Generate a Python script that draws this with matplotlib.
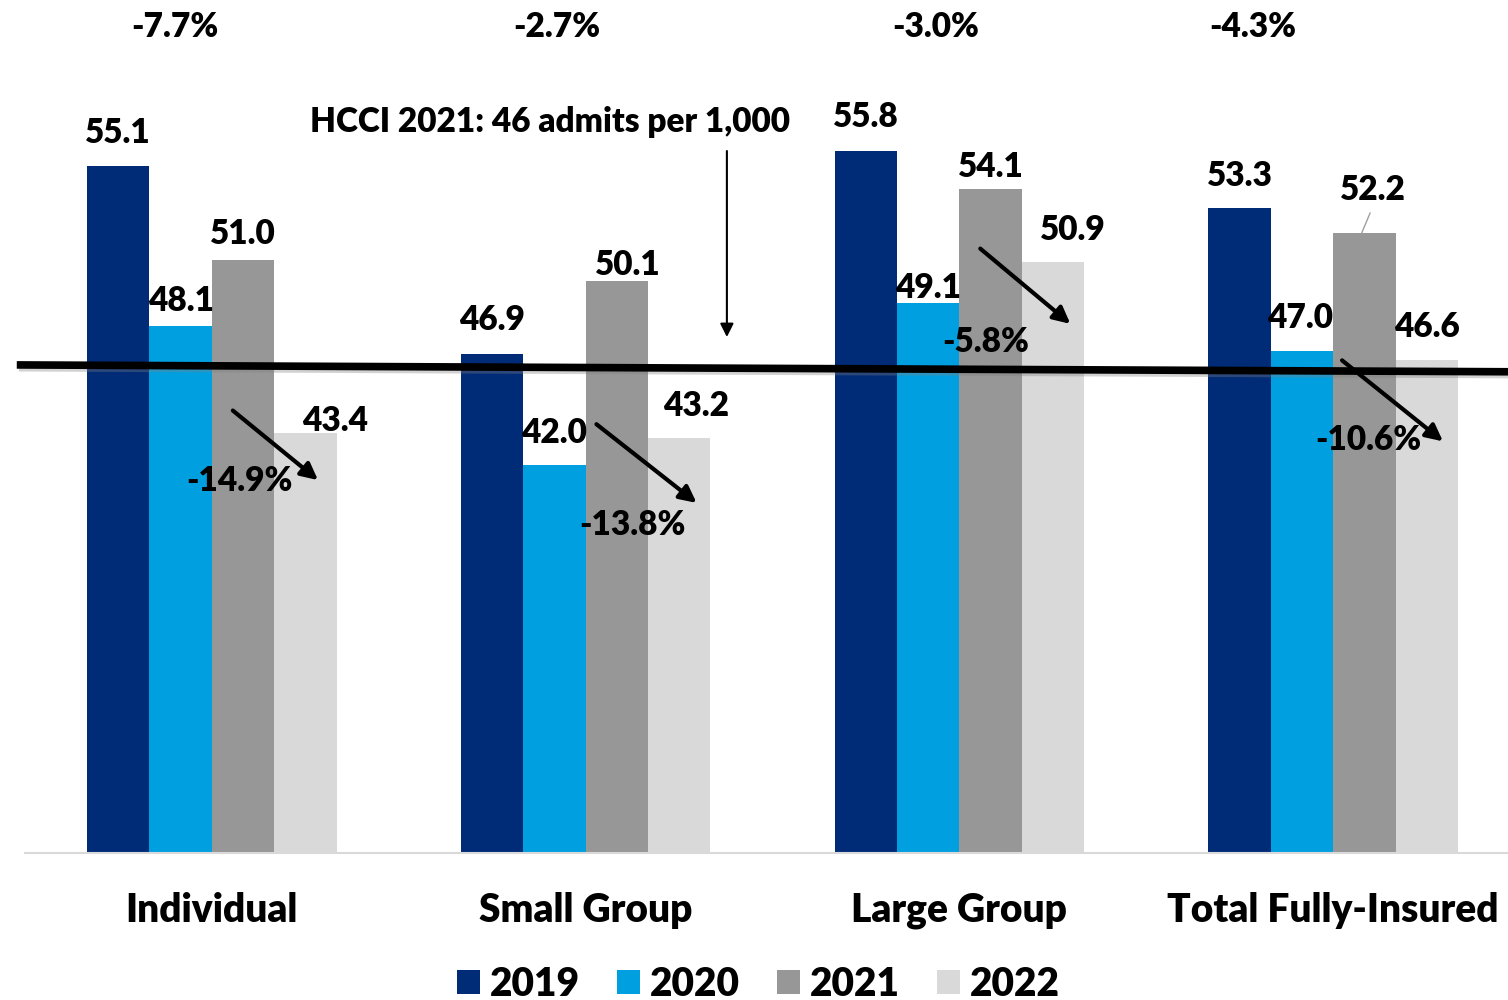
import matplotlib
matplotlib.use("Agg")
import matplotlib.pyplot as plt
import matplotlib.patheffects as pe
import numpy as np

plt.rcParams['font.family'] = ['Lato', 'DejaVu Sans']
WT = 'heavy'

# data
categories = ['Individual', 'Small Group', 'Large Group', 'Total Fully-Insured']
years = ['2019', '2020', '2021', '2022']
v2019 = [55.1, 46.9, 55.8, 53.3]
v2020 = [48.1, 42.0, 49.1, 47.0]
v2021 = [51.0, 50.1, 54.1, 52.2]
v2022 = [43.4, 43.2, 50.9, 46.6]
change_21_22 = ['-14.9%', '-13.8%', '-5.8%', '-10.6%']
change_19_22 = ['-7.7%', '-2.7%', '-3.0%', '-4.3%']
hcci_text = 'HCCI 2021: 46 admits per 1,000'

colors = ['#002B77', '#009FE0', '#979797', '#D9D9D9']

# label offsets (points) for value labels: (dx, dy) per series per group
lab_dx = [[0, 0, 0, 0], [0, 0, 0, -1.5], [0, 8, 0, 6], [21, 12, 14, 0]]
lab_dy = [[24, 24, 24, 23], [18, 23, 11, 24], [19, 11, 16, 31], [9, 23, 23, 24]]

# arrow layout per group: tail (dx, y), head (dx, y)
arrow_tail = [(0.056, 44.4), (0.029, 43.8), (0.056, 51.5), (0.024, 46.6)]
arrow_head = [(0.284, 41.35), (0.297, 40.35), (0.297, 48.2), (0.294, 43.05)]
pct_pos = [(0.075, 41.3), (0.126, 39.4), (0.070, 47.4), (0.094, 43.1)]
top_dx = [-0.099, -0.077, -0.064, -0.214]

fig = plt.figure(figsize=(15.08, 10), dpi=100)
ax = fig.add_axes([25 / 1508, 1 - 853 / 1000, 1 - 25 / 1508, 853 / 1000])

x = np.arange(len(categories))
w = 0.167
series = [v2019, v2020, v2021, v2022]
for i, vals in enumerate(series):
    pos = x + (i - 1.5) * w
    ax.bar(pos, np.array(vals) - 25, w, bottom=25, color=colors[i], label=years[i], zorder=2)
    for j, v in enumerate(vals):
        ax.annotate(f'{v:.1f}', (pos[j], v), xytext=(lab_dx[i][j], lab_dy[i][j]),
                    textcoords='offset points', ha='center', va='center',
                    fontsize=24, fontweight=WT, zorder=5)

ax.set_xlim(-0.5, 3.468)
ax.set_ylim(25, 62.4)

# leader line for 52.2
ax.plot([3.099, 3.077], [53.06, 52.2], color='#A0A0A0', lw=1, zorder=3)

# HCCI benchmark line
ax.plot([-0.522, 3.468], [46.4, 46.1], color='black', lw=5.5, zorder=4, clip_on=False,
        solid_capstyle='butt',
        path_effects=[pe.SimpleLineShadow(offset=(1.5, -2), shadow_color='gray', alpha=0.35),
                      pe.Normal()])
ax.text(0.262, 57.05, hcci_text, ha='left', va='center', fontsize=24, fontweight=WT)
ax.annotate('', xy=(1.378, 47.5), xytext=(1.378, 55.9),
            arrowprops=dict(arrowstyle='-|>', color='black', lw=1.5, mutation_scale=20))

# change arrows and labels
for j in range(len(categories)):
    ax.annotate('', xy=(x[j] + arrow_head[j][0], arrow_head[j][1]),
                xytext=(x[j] + arrow_tail[j][0], arrow_tail[j][1]),
                arrowprops=dict(arrowstyle='-|>', color='black', lw=3, mutation_scale=25,
                                shrinkA=0, shrinkB=0), zorder=6)
    ax.text(x[j] + pct_pos[j][0], pct_pos[j][1], change_21_22[j], ha='center', va='center',
            fontsize=24, fontweight=WT, zorder=7)
    ax.text(x[j] + top_dx[j], 61.2, change_19_22[j], ha='center', va='center',
            fontsize=24, fontweight=WT)

ax.set_xticks(x)
ax.set_xticklabels(categories, fontsize=28, fontweight=WT)
ax.tick_params(axis='x', length=0, pad=28)
ax.set_yticks([])
for s in ['top', 'left', 'right']:
    ax.spines[s].set_visible(False)
ax.spines['bottom'].set_color('#D9D9D9')
ax.spines['bottom'].set_linewidth(1.5)

fig.legend(loc='lower center', bbox_to_anchor=(0.503, -0.026), ncol=4, frameon=False,
           prop={'size': 28, 'weight': WT}, handlelength=0.6, handleheight=0.6,
           handletextpad=0.25, columnspacing=0.95, borderaxespad=0.2)

fig.savefig('out.png', dpi=100)
